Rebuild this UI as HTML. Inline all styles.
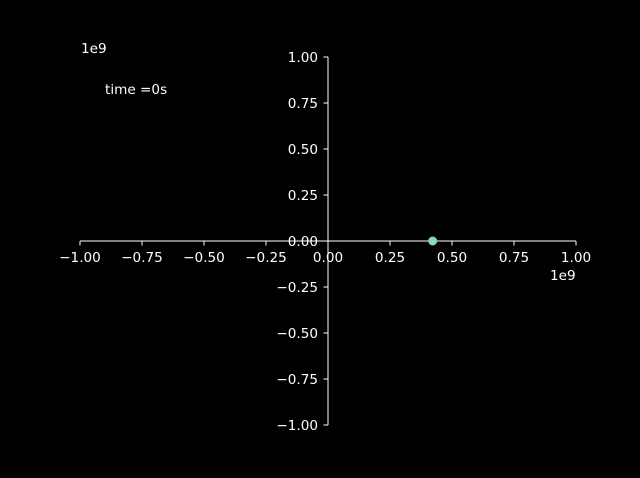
<!DOCTYPE html>
<html><head><meta charset="utf-8"><style>
body{margin:0;background:#000;}
svg text{font-family:"DejaVu Sans","Liberation Sans",sans-serif;font-size:13.6px;fill:#fff;}
</style></head><body>
<svg id="c" width="640" height="478" style="display:block;background:#000">
<g id="ax"></g>
<text x="81" y="53">1e9</text>
<text x="550" y="280">1e9</text>
<text x="105" y="94">time =0s</text>
</svg>
<script>
const xTicks=[-1,-0.75,-0.5,-0.25,0,0.25,0.5,0.75,1];
const yTicks=[1,0.75,0.5,0.25,0,-0.25,-0.5,-0.75,-1];
const tickLabels=["−1.00","−0.75","−0.50","−0.25","0.00","0.25","0.50","0.75","1.00"];
const pointX=[0.422];
const pointY=[0];
const NS="http://www.w3.org/2000/svg";
const g=document.getElementById('ax');
const sx=v=>328+v*248, sy=v=>241-v*184;
function mk(t,a){const e=document.createElementNS(NS,t);for(const k in a)e.setAttribute(k,a[k]);g.appendChild(e);return e;}
let e=mk('line',{x1:sx(-1),x2:sx(1),y1:241,y2:241,stroke:'#fff','stroke-width':1});


e=mk('line',{x1:328,x2:328,y1:sy(1),y2:sy(-1),stroke:'#fff','stroke-width':1});


xTicks.forEach((v,i)=>{
 let t=mk('line',{x1:sx(v),x2:sx(v),y1:241,y2:245.5,stroke:'#fff'});
 
 
 let l=mk('text',{x:sx(v),y:262,'text-anchor':'middle'});l.textContent=tickLabels[i];
 
 
});
yTicks.forEach((v,i)=>{
 let t=mk('line',{x1:323.5,x2:328,y1:sy(v),y2:sy(v),stroke:'#fff'});
 
 
 let l=mk('text',{x:318,y:sy(v)+5,'text-anchor':'end'});l.textContent=tickLabels[8-i];
 
 
});
pointX.forEach((v,i)=>{
 let c=mk('circle',{cx:sx(v),cy:sy(pointY[i]),r:4.5,fill:'#8dd3c7'});
 
 
});
</script>
</body></html>
